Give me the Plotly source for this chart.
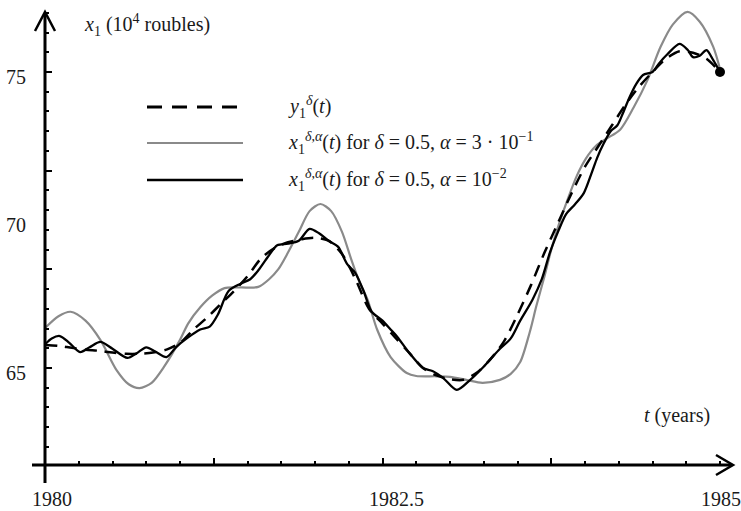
import plotly.graph_objects as go

# ---- data ----
t_dash = [1980.00, 1980.10, 1980.20, 1980.30, 1980.40, 1980.50, 1980.60, 1980.70, 1980.80, 1980.90,
          1981.00, 1981.10, 1981.20, 1981.30, 1981.40, 1981.50, 1981.60, 1981.70, 1981.80, 1981.90,
          1982.00, 1982.10, 1982.20, 1982.30, 1982.40, 1982.50, 1982.60, 1982.70, 1982.80, 1982.90,
          1983.00, 1983.10, 1983.20, 1983.30, 1983.40, 1983.50, 1983.60, 1983.70, 1983.80, 1983.90,
          1984.00, 1984.10, 1984.20, 1984.30, 1984.40, 1984.50, 1984.60, 1984.70, 1984.80, 1984.90, 1985.00]
y_dash = [65.78, 65.75, 65.68, 65.62, 65.58, 65.52, 65.48, 65.48, 65.52, 65.62,
          65.85, 66.3, 66.7, 67.15, 67.6, 68.1, 68.7, 69.05, 69.25, 69.35,
          69.4, 69.3, 68.85, 68.0, 67.0, 66.5, 66.0, 65.5, 65.0, 64.75,
          64.62, 64.6, 64.85, 65.3, 65.9, 66.8, 67.8, 68.9, 69.9, 70.9,
          71.8, 72.5, 73.2, 73.9, 74.5, 75.0, 75.45, 75.7, 75.65, 75.45, 75.0]

t_gray = [1980.00, 1980.10, 1980.19, 1980.30, 1980.41, 1980.53, 1980.62, 1980.70, 1980.79, 1980.88,
          1981.00, 1981.06, 1981.15, 1981.24, 1981.33, 1981.45, 1981.58, 1981.66, 1981.73, 1981.80,
          1981.88, 1981.96, 1982.04, 1982.12, 1982.20, 1982.27, 1982.33, 1982.39, 1982.46, 1982.56,
          1982.68, 1982.75, 1982.90, 1983.00, 1983.12, 1983.24, 1983.37, 1983.45, 1983.52, 1983.59,
          1983.64, 1983.70, 1983.75, 1983.81, 1983.87, 1983.94, 1984.01, 1984.08, 1984.16, 1984.26,
          1984.36, 1984.46, 1984.56, 1984.65, 1984.76, 1984.85, 1984.95, 1985.00]
y_gray = [66.35, 66.75, 66.9, 66.6, 65.95, 64.93, 64.45, 64.32, 64.5, 65.03,
          65.95, 66.5, 67.05, 67.45, 67.7, 67.72, 67.74, 68.0, 68.35, 68.9,
          69.6, 70.3, 70.54, 70.3, 69.6, 68.65, 67.9, 67.3, 66.3, 65.37,
          64.83, 64.73, 64.72, 64.7, 64.6, 64.5, 64.6, 64.8, 65.2, 66.2,
          67.1, 68.1, 69.0, 69.9, 70.68, 71.5, 72.1, 72.5, 72.75, 73.05,
          73.8, 74.7, 75.85, 76.6, 77.03, 76.7, 75.85, 75.1]

t_black = [1980.00, 1980.05, 1980.11, 1980.18, 1980.26, 1980.33, 1980.41, 1980.50, 1980.61, 1980.68,
           1980.75, 1980.82, 1980.90, 1980.97, 1981.05, 1981.15, 1981.22, 1981.28, 1981.36, 1981.45,
           1981.52, 1981.58, 1981.65, 1981.72, 1981.80, 1981.88, 1981.96, 1982.03, 1982.10, 1982.17,
           1982.24, 1982.30, 1982.36, 1982.42, 1982.50, 1982.56, 1982.61, 1982.70, 1982.80, 1982.87,
           1982.95, 1983.05, 1983.15, 1983.24, 1983.30, 1983.37, 1983.45, 1983.52, 1983.61, 1983.68,
           1983.74, 1983.80, 1983.86, 1983.92, 1983.99, 1984.05, 1984.09, 1984.14, 1984.19, 1984.24,
           1984.28, 1984.33, 1984.38, 1984.43, 1984.50, 1984.55, 1984.61, 1984.70, 1984.76, 1984.80,
           1984.85, 1984.90, 1984.95, 1985.00]
y_black = [65.80, 66.0, 66.08, 65.85, 65.54, 65.7, 65.88, 65.65, 65.34, 65.5,
           65.7, 65.55, 65.37, 65.7, 66.0, 66.3, 66.4, 66.8, 67.6, 67.85,
           68.0, 68.3, 68.75, 69.15, 69.2, 69.3, 69.7, 69.55, 69.3, 69.1,
           68.5, 68.2, 67.6, 66.9, 66.6, 66.3, 66.05, 65.5, 65.0, 64.9,
           64.66, 64.26, 64.6, 65.0, 65.3, 65.65, 66.0, 66.6, 67.3, 68.0,
           68.9, 69.6, 70.2, 70.5, 70.9, 71.6, 72.1, 72.6, 73.0, 73.2,
           73.6, 74.15, 74.6, 74.9, 75.0, 75.3, 75.6, 75.95, 75.75, 75.5,
           75.55, 75.74, 75.4, 75.0]

end_point_t = [1985.0]
end_point_y = [75.0]

x_tick_labels = ["1980", "1982.5", "1985"]
x_tick_values = [1980.0, 1982.5, 1985.0]
y_tick_labels = ["65", "70", "75"]
y_tick_values = [65.0, 70.0, 75.0]

legend_texts = [
    "<i>y</i><sub>1</sub><sup><i>δ</i></sup>(<i>t</i>)",
    "<i>x</i><sub>1</sub><sup><i>δ</i>,<i>α</i></sup>(<i>t</i>) for <i>δ</i> = 0.5, <i>α</i> = 3 · 10<sup>−1</sup>",
    "<i>x</i><sub>1</sub><sup><i>δ</i>,<i>α</i></sup>(<i>t</i>) for <i>δ</i> = 0.5, <i>α</i> = 10<sup>−2</sup>",
]

# ---- geometry ----
W, H = 741, 511
L, R, T, B = 45, 735, 5, 465   # plot area in pixels
PX_PER_YEAR = 135.0
PX_PER_UNIT = 29.6
x0 = 1980.0
x1 = x0 + (R - L) / PX_PER_YEAR
y_bottom = 65 - (B - 368) / PX_PER_UNIT
y_top = 65 + (368 - T) / PX_PER_UNIT


def px(x):
    return (x - L) / (R - L)


def py(y):
    return (B - y) / (B - T)


FONT = "Liberation Serif, Times New Roman, serif"
FS = 20
TXT = "#1a1a1a"
GRAY = "#8a8a8a"

fig = go.Figure()
fig.add_trace(go.Scatter(x=t_gray, y=y_gray, mode="lines",
                         line=dict(color=GRAY, width=2.2, shape="spline", smoothing=0.8),
                         showlegend=False, hoverinfo="skip"))
fig.add_trace(go.Scatter(x=t_black, y=y_black, mode="lines",
                         line=dict(color="black", width=2.3, shape="spline", smoothing=0.8),
                         showlegend=False, hoverinfo="skip"))
fig.add_trace(go.Scatter(x=t_dash, y=y_dash, mode="lines",
                         line=dict(color="black", width=2.5, dash="12px,8px", shape="spline", smoothing=0.8),
                         showlegend=False, hoverinfo="skip"))
fig.add_trace(go.Scatter(x=end_point_t, y=end_point_y, mode="markers",
                         marker=dict(color="black", size=10),
                         showlegend=False, hoverinfo="skip", cliponaxis=False))

shapes = []
# axis lines
shapes.append(dict(type="line", xref="paper", yref="paper", x0=px(32), x1=px(731), y0=py(465), y1=py(465),
                   line=dict(color="black", width=3)))
shapes.append(dict(type="line", xref="paper", yref="paper", x0=px(45), x1=px(45), y0=py(483), y1=py(14),
                   line=dict(color="black", width=3)))
# arrow heads
shapes.append(dict(type="path", xref="paper", yref="paper",
                   path=f"M {px(716)},{py(455)} L {px(733)},{py(465)} L {px(716)},{py(475)}",
                   line=dict(color="black", width=2.5)))
shapes.append(dict(type="path", xref="paper", yref="paper",
                   path=f"M {px(35)},{py(31)} L {px(45)},{py(12)} L {px(55)},{py(31)}",
                   line=dict(color="black", width=2.5)))
# legend samples
shapes.append(dict(type="line", xref="paper", yref="paper", x0=px(147), x1=px(237), y0=py(107), y1=py(107),
                   line=dict(color="black", width=3, dash="15px,10px")))
shapes.append(dict(type="line", xref="paper", yref="paper", x0=px(147), x1=px(243), y0=py(143), y1=py(143),
                   line=dict(color=GRAY, width=2.2)))
shapes.append(dict(type="line", xref="paper", yref="paper", x0=px(147), x1=px(243), y0=py(180), y1=py(180),
                   line=dict(color="black", width=2.5)))

ann = []
for txt, yy in zip(legend_texts, [107, 143, 180]):
    ann.append(dict(text=txt, xref="paper", yref="paper", x=px(286), y=py(yy), xanchor="left", yanchor="middle",
                    showarrow=False, font=dict(family=FONT, size=FS, color=TXT)))
ann.append(dict(text="<i>x</i><sub>1</sub> (10<sup>4</sup> roubles)", xref="paper", yref="paper",
                x=px(82), y=py(25), xanchor="left", yanchor="middle", showarrow=False,
                font=dict(family=FONT, size=FS, color=TXT)))
ann.append(dict(text="<i>t</i> (years)", xref="paper", yref="paper",
                x=px(642), y=py(415), xanchor="left", yanchor="middle", showarrow=False,
                font=dict(family=FONT, size=FS, color=TXT)))
for lab, v, shift in zip(x_tick_labels, x_tick_values, [7, 14, 1]):
    ann.append(dict(text=lab, xref="x", yref="paper", x=v, y=py(499), xshift=shift,
                    xanchor="center", yanchor="middle", showarrow=False,
                    font=dict(family=FONT, size=FS, color=TXT)))
for lab, v in zip(y_tick_labels, y_tick_values):
    ann.append(dict(text=lab, xref="paper", yref="y", x=px(16), y=v, yshift=-5,
                    xanchor="center", yanchor="middle", showarrow=False,
                    font=dict(family=FONT, size=FS, color=TXT)))

fig.update_layout(
    width=W, height=H,
    margin=dict(l=L, r=W - R, t=T, b=H - B),
    paper_bgcolor="white", plot_bgcolor="white",
    shapes=shapes, annotations=ann,
    xaxis=dict(range=[x0, x1], showgrid=False, zeroline=False, showline=False,
               tickmode="array", tickvals=[1981.25, 1982.5, 1983.75], ticks="inside",
               ticklen=7, tickwidth=2, tickcolor="black", showticklabels=False,
               minor=dict(ticks="inside", tick0=1980, dtick=0.25, ticklen=4, tickwidth=2, tickcolor="black")),
    yaxis=dict(range=[y_bottom, y_top], showgrid=False, zeroline=False, showline=False,
               tickmode="array", tickvals=[65, 68.3333, 71.6667, 75], ticks="inside",
               ticklen=7, tickwidth=2, tickcolor="black", showticklabels=False,
               minor=dict(ticks="inside", tick0=65, dtick=2 / 3, ticklen=4, tickwidth=2, tickcolor="black")),
)

fig.write_html("out.html", config={"displayModeBar": False},
               post_script="document.body.style.margin='0';document.body.style.overflow='hidden';")
